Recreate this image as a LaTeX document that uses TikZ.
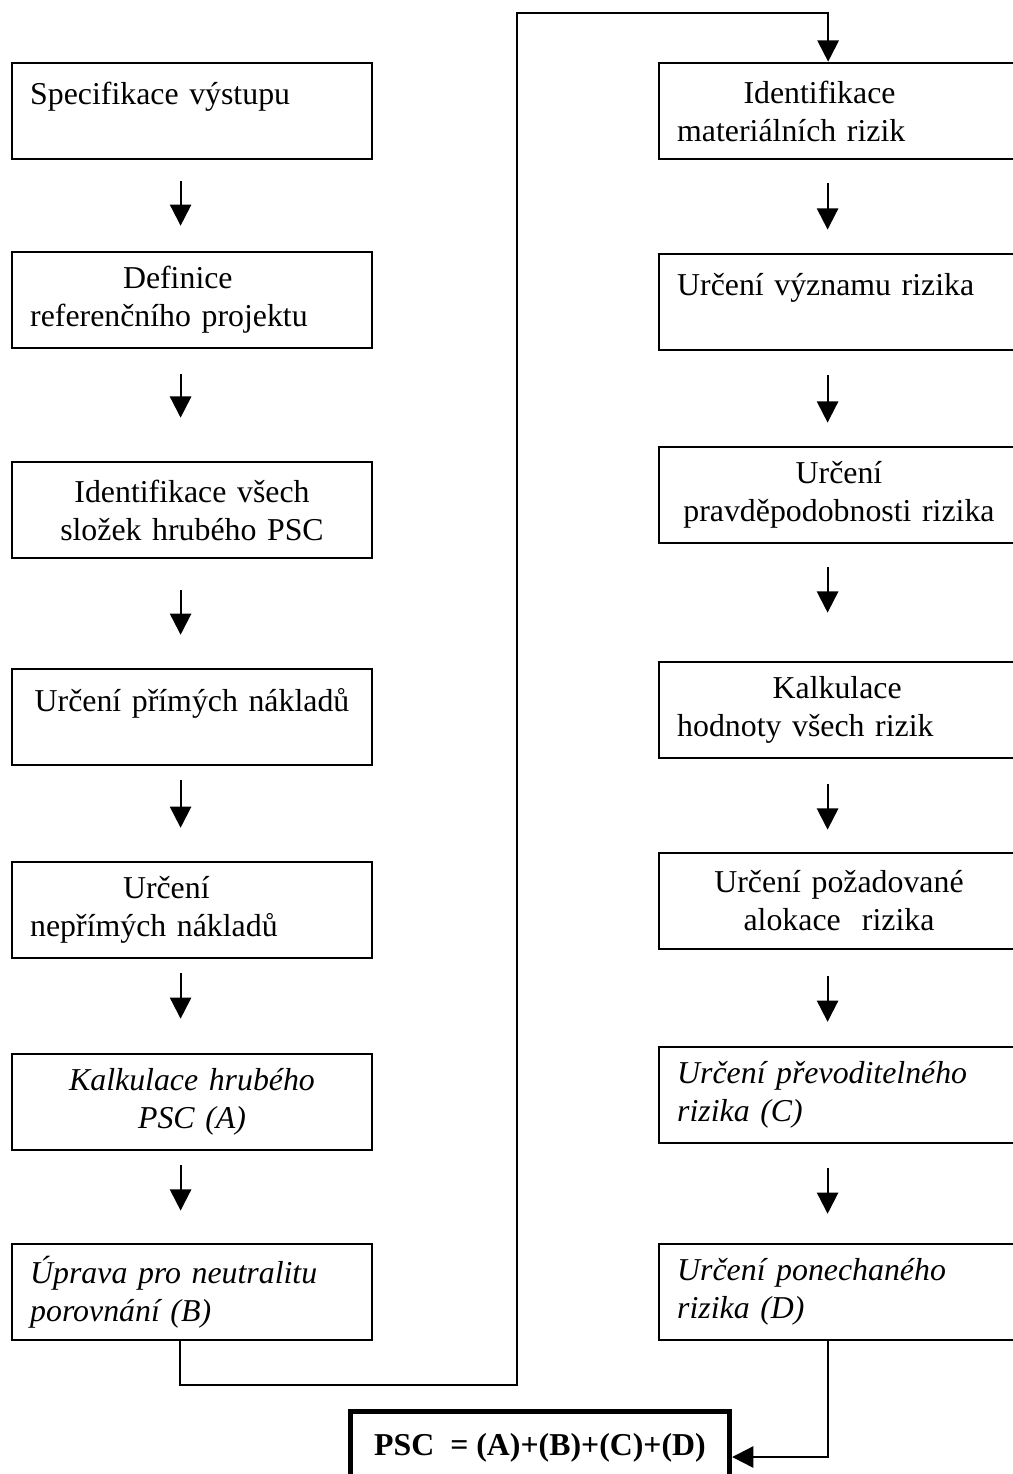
\documentclass[tikz,border=0pt]{standalone}
\usepackage{fontspec}
\setmainfont{Liberation Serif}
\usepackage{tikz}
\usetikzlibrary{arrows.meta}

\begin{document}
\begin{tikzpicture}[x=0.377pt, y=-0.377pt,
    stepbox/.style={draw, line width=0.8pt, minimum width=136pt, minimum height=36.4pt,
      text width=122pt, inner xsep=7pt, inner ysep=0pt, align=left,
      font=\fontsize{12}{14.3}\selectfont},
    onerow/.style={text depth=13pt},
    flow/.style={-{Triangle[length=8pt,width=8pt]}, line width=0.8pt},
    total/.style={draw, line width=1.9pt, minimum width=143pt, minimum height=34.3pt,
      text depth=9.5pt, font=\bfseries\fontsize{12}{14.3}\selectfont}]
  \useasboundingbox (0,0) rectangle (1013,1474);

  % left column
  \node[stepbox, onerow] (s1) at (192,111) {Specifikace výstupu};
  \node[stepbox] (s2) at (192,300) {\hspace*{35pt}Definice\\referenčního projektu};
  \node[stepbox, align=center] (s3) at (192,510) {Identifikace všech\\složek hrubého PSC};
  \node[stepbox, onerow, align=center] (s4) at (192,717) {Určení přímých nákladů};
  \node[stepbox] (s5) at (192,910) {\hspace*{35pt}Určení\\nepřímých nákladů};
  \node[stepbox, align=center] (s6) at (192,1102) {\itshape Kalkulace hrubého\\PSC (A)};
  \node[stepbox] (s7) at (192,1292) {\itshape Úprava pro neutralitu\\porovnání (B)};

  % right column
  \node[stepbox] (r1) at (839,111) {\hspace*{25pt}Identifikace\\materiálních rizik};
  \node[stepbox, onerow] (r2) at (839,302) {Určení významu rizika};
  \node[stepbox, align=center] (r3) at (839,495) {Určení\\pravděpodobnosti rizika};
  \node[stepbox] (r4) at (839,710) {\hspace*{36pt}Kalkulace\\hodnoty všech rizik};
  \node[stepbox, align=center] (r5) at (839,901) {Určení požadované\\alokace\ \ rizika};
  \node[stepbox] (r6) at (839,1095) {\itshape Určení převoditelného\\rizika (C)};
  \node[stepbox] (r7) at (839,1292) {\itshape Určení ponechaného\\rizika (D)};

  % result
  \node[total] (psc) at (540,1457) {PSC\ \ = (A)+(B)+(C)+(D)};

  \coordinate (turnB) at (517,1385);
  \coordinate (turnT) at (517,13);

  % arrows between steps
  \foreach \a/\b/\s/\e in {s1/s2/7.9pt/9.4pt, s2/s3/9.4pt/16.2pt, s3/s4/11.7pt/12.4pt,
      s4/s5/5.3pt/12.4pt, s5/s6/5.3pt/12.8pt, s6/s7/5.3pt/12.1pt,
      r1/r2/8.7pt/8.7pt, r2/r3/9pt/8.7pt, r3/r4/8.7pt/18.1pt,
      r4/r5/9.4pt/8.3pt, r5/r6/9.8pt/9pt, r6/r7/9pt/10.9pt}
    \draw[flow, shorten <=\s, shorten >=\e] ([xshift=-4.3pt]\a.south) -- ([xshift=-4.3pt]\b.north);

  \draw[flow] ([xshift=-4.5pt]s7.south) |- (turnB) -- (turnT) -| ([xshift=-4.1pt]r1.north);
  \draw[flow] ([xshift=-4pt]r7.south) |- (psc.east);
\end{tikzpicture}
\end{document}
